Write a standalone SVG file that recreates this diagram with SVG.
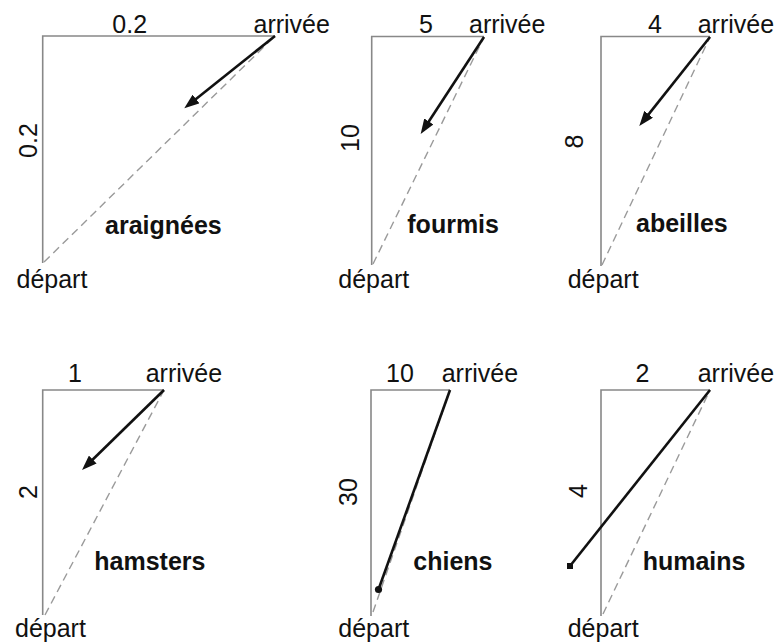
<svg xmlns="http://www.w3.org/2000/svg" width="781" height="644" viewBox="0 0 781 644">
<style>
text{font-family:"Liberation Sans",Arial,sans-serif;font-size:25px;fill:#111}
.b{font-weight:bold}
.m{text-anchor:middle}
.ax{fill:none;stroke:#888;stroke-width:1.6}
.ds{fill:none;stroke:#9a9a9a;stroke-width:1.4;stroke-dasharray:8 5}
.ar{fill:none;stroke:#111;stroke-width:2.6;marker-end:url(#ah)}
.ln{fill:none;stroke:#111;stroke-width:2.6}
</style>
<defs>
<marker id="ah" markerUnits="userSpaceOnUse" viewBox="0 0 15 11" refX="10" refY="5.5" markerWidth="15" markerHeight="11" orient="auto">
<path d="M0,0 L15,5.5 L0,11 z" fill="#111"/>
</marker>
</defs>
<rect width="781" height="644" fill="#fff"/>

<g id="araignees">
<path class="ax" d="M42.7,263 V36 H275"/>
<path class="ds" d="M44,262 L275,36"/>
<path class="ar" d="M275,36 L188.2,105.2"/>
<text class="m" x="129.7" y="32.5">0.2</text>
<text x="253.5" y="32.5">arrivée</text>
<text class="m" transform="translate(37,140.5) rotate(-90)">0.2</text>
<text class="b" x="105" y="234">araignées</text>
<text x="16.5" y="288">départ</text>
</g>

<g id="fourmis">
<path class="ax" d="M371.7,265 V36.5 H484"/>
<path class="ds" d="M373,264 L484,37"/>
<path class="ar" d="M484,37 L423.4,129.8"/>
<text class="m" x="426" y="33">5</text>
<text x="469" y="33">arrivée</text>
<text class="m" transform="translate(359,138) rotate(-90)">10</text>
<text class="b" x="407.3" y="233">fourmis</text>
<text x="338.3" y="288">départ</text>
</g>

<g id="abeilles">
<path class="ax" d="M601,266 V36.5 H710"/>
<path class="ds" d="M602,265 L710,37"/>
<path class="ar" d="M710,37 L642.4,122.1"/>
<text class="m" x="655" y="33">4</text>
<text x="697.7" y="33">arrivée</text>
<text class="m" transform="translate(583,141.5) rotate(-90)">8</text>
<text class="b" x="636" y="232">abeilles</text>
<text x="567.7" y="288">départ</text>
</g>

<g id="hamsters">
<path class="ax" d="M42.7,615 V390 H164"/>
<path class="ds" d="M45,615 L164,390"/>
<path class="ar" d="M164,390 L85.6,466.5"/>
<text class="m" x="75" y="381.7">1</text>
<text x="145.7" y="381.7">arrivée</text>
<text class="m" transform="translate(36.7,492) rotate(-90)">2</text>
<text class="b" x="94.3" y="570">hamsters</text>
<text x="15" y="637">départ</text>
</g>

<g id="chiens">
<path class="ax" d="M371,616 V390 H450"/>
<path class="ds" d="M373,612 L450,390"/>
<path class="ln" d="M450,390 L378.5,589.5"/>
<circle cx="378.5" cy="589.5" r="3.6" fill="#111"/>
<text class="m" x="400" y="381.7">10</text>
<text x="441.7" y="381.7">arrivée</text>
<text class="m" transform="translate(357.3,492) rotate(-90)">30</text>
<text class="b" x="413.3" y="570">chiens</text>
<text x="338.3" y="637">départ</text>
</g>

<g id="humains">
<path class="ax" d="M601,616 V390 H710"/>
<path class="ds" d="M603,614 L710,390"/>
<path class="ln" d="M710,390 L570,566"/>
<rect x="567" y="563" width="6" height="6" fill="#111"/>
<text class="m" x="642.5" y="381.7">2</text>
<text x="697.7" y="381.7">arrivée</text>
<text class="m" transform="translate(587.3,491) rotate(-90)">4</text>
<text class="b" x="642.7" y="570">humains</text>
<text x="567.7" y="637">départ</text>
</g>
</svg>
